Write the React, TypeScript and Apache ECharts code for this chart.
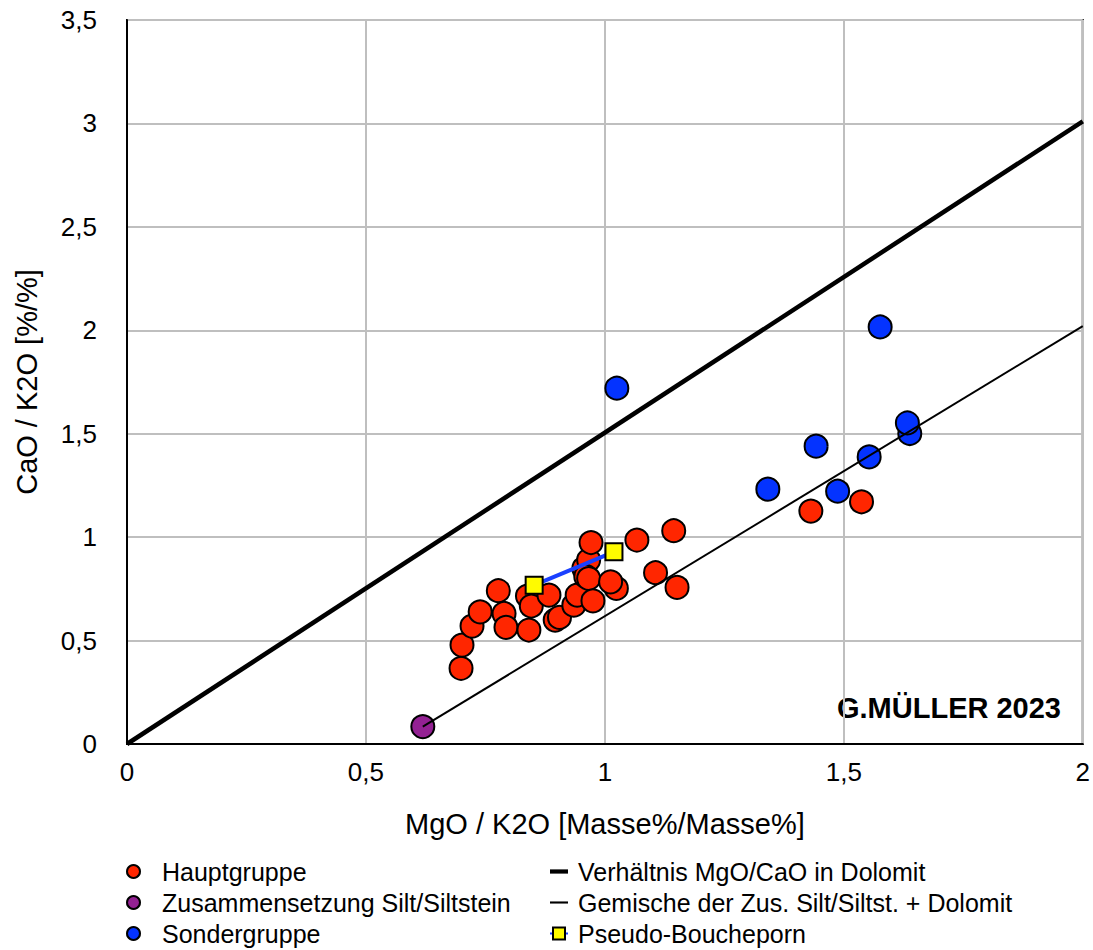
import React, { useEffect, useRef } from "react";
import * as echarts from "echarts";

const hauptgruppe: number[][] = [
  [0.699, 0.366], [0.701, 0.478], [0.722, 0.57], [0.739, 0.639], [0.777, 0.741],
  [0.789, 0.631], [0.793, 0.564], [0.841, 0.551], [0.838, 0.715], [0.846, 0.667],
  [0.883, 0.72], [0.896, 0.599], [0.905, 0.612], [0.935, 0.671], [0.942, 0.72],
  [0.956, 0.849], [0.966, 0.889], [0.96, 0.81], [0.966, 0.8], [0.971, 0.974],
  [0.975, 0.692], [1.024, 0.752], [1.012, 0.784], [1.067, 0.986], [1.144, 1.031],
  [1.106, 0.828], [1.151, 0.757], [1.431, 1.126], [1.537, 1.171],
];
const siltstein: number[][] = [[0.619, 0.084]];
const sondergruppe: number[][] = [
  [1.025, 1.72], [1.576, 2.016], [1.442, 1.44], [1.341, 1.232],
  [1.487, 1.222], [1.553, 1.388], [1.638, 1.501], [1.633, 1.552],
];
const dolomitLine: number[][] = [[0, 0], [2, 3.01]];
const gemischeLine: number[][] = [[0.619, 0.084], [2, 2.02]];
const pseudoBoucheporn: number[][] = [[0.852, 0.768], [1.019, 0.929]];

const xTicks = { min: 0, max: 2, interval: 0.5 };
const yTicks = { min: 0, max: 3.5, interval: 0.5 };

const FONT = "'Liberation Sans', Arial, Helvetica, sans-serif";
const fmt = (v: number) => String(v).replace(".", ",");

export default function App() {
  const ref = useRef<HTMLDivElement>(null);
  useEffect(() => {
    if (!ref.current) return;
    const chart = echarts.init(ref.current, null, { renderer: "svg" });
    const circleStyle = (c: string) => ({ color: c, borderColor: "#000", borderWidth: 2, opacity: 1 });
    chart.setOption({
      animation: false,
      backgroundColor: "#fff",
      textStyle: { fontFamily: FONT },
      grid: { left: 127, right: 8, top: 20, bottom: 206, show: true, borderColor: "#000", borderWidth: 2 },
      xAxis: {
        type: "value",
        ...xTicks,
        name: "MgO / K2O [Masse%/Masse%]",
        nameLocation: "middle",
        nameGap: 65,
        nameTextStyle: { fontSize: 29, color: "#000", fontFamily: FONT },
        axisLine: { show: true, lineStyle: { color: "#000", width: 2 } },
        axisTick: { show: false },
        axisLabel: { formatter: fmt, fontSize: 26, color: "#000", margin: 15, fontFamily: FONT },
        splitLine: { show: true, lineStyle: { color: "#bfbfbf", width: 2 } },
      },
      yAxis: {
        type: "value",
        ...yTicks,
        name: "CaO / K2O [%/%]",
        nameLocation: "middle",
        nameGap: 86,
        nameTextStyle: { fontSize: 29, color: "#000", fontFamily: FONT },
        axisLine: { show: true, lineStyle: { color: "#000", width: 2 } },
        axisTick: { show: false },
        axisLabel: { formatter: fmt, fontSize: 26, color: "#000", margin: 30, fontFamily: FONT },
        splitLine: { show: true, lineStyle: { color: "#bfbfbf", width: 2 } },
      },
      legend: [
        {
          data: ["Hauptgruppe", "Zusammensetzung Silt/Siltstein", "Sondergruppe"],
          orient: "vertical",
          left: 126,
          top: 859,
          width: 420,
          height: 150,
          padding: 0,
          itemWidth: 13,
          itemHeight: 13,
          itemGap: 6,
          icon: "circle",
          selectedMode: false,
          textStyle: { fontSize: 25, lineHeight: 24, color: "#000", fontFamily: FONT, padding: [0, 0, 0, 17] },
        },
        {
          data: [
            { name: "Verhältnis MgO/CaO in Dolomit", icon: "path://M0,0 L17,0 L17,4 L0,4 Z" },
            { name: "Gemische der Zus. Silt/Siltst. + Dolomit", icon: "path://M0,0 L17,0 L17,2 L0,2 Z" },
            { name: "Pseudo-Boucheporn" },
          ],
          orient: "vertical",
          left: 549,
          top: 859,
          width: 540,
          height: 150,
          padding: 0,
          itemWidth: 18,
          itemHeight: 15,
          itemGap: 6,
          selectedMode: false,
          textStyle: { fontSize: 25, lineHeight: 24, color: "#000", fontFamily: FONT, padding: [0, 0, 0, 5] },
        },
      ],
      graphic: [
        {
          type: "text",
          right: 32,
          top: 693,
          style: { text: "G.MÜLLER 2023", font: `bold 29px ${FONT}`, fill: "#000" },
        },
      ],
      series: [
        {
          name: "Sondergruppe",
          type: "scatter",
          data: sondergruppe,
          symbol: "circle",
          symbolSize: 23,
          itemStyle: circleStyle("#0433FF"),
        },
        {
          name: "Verhältnis MgO/CaO in Dolomit",
          type: "line",
          data: dolomitLine,
          symbol: "none",
          lineStyle: { color: "#000", width: 4.5 },
          itemStyle: { color: "#000" },
        },
        {
          name: "Gemische der Zus. Silt/Siltst. + Dolomit",
          type: "line",
          data: gemischeLine,
          symbol: "none",
          lineStyle: { color: "#000", width: 2 },
          itemStyle: { color: "#000" },
        },
        {
          name: "Pseudo-Boucheporn",
          type: "line",
          data: pseudoBoucheporn,
          symbol: "rect",
          symbolSize: 17,
          lineStyle: { color: "#1a40ff", width: 4 },
          itemStyle: { color: "#FFFB00", borderColor: "#000", borderWidth: 2 },
        },
        {
          name: "Hauptgruppe",
          type: "scatter",
          data: hauptgruppe,
          symbol: "circle",
          symbolSize: 23,
          itemStyle: circleStyle("#FF2600"),
        },
        {
          name: "Zusammensetzung Silt/Siltstein",
          type: "scatter",
          data: siltstein,
          symbol: "circle",
          symbolSize: 23,
          itemStyle: circleStyle("#942193"),
        },
      ],
    });
    return () => chart.dispose();
  }, []);
  return (
    <div
      ref={ref}
      style={{ position: "fixed", left: 0, top: 0, width: 1093, height: 950, background: "#fff" }}
    />
  );
}
